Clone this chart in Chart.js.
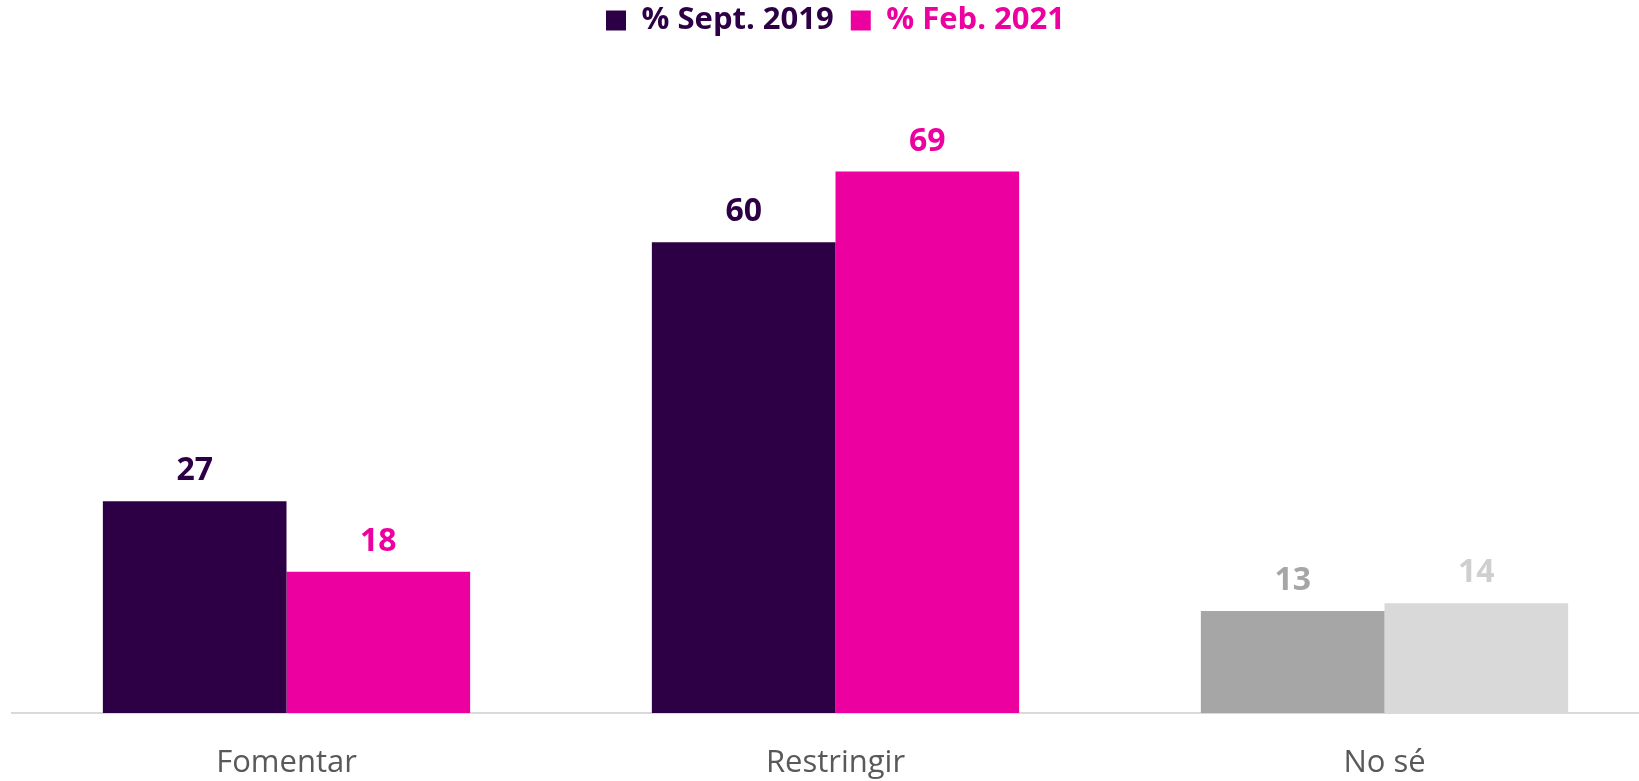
<!DOCTYPE html>
<html>
<head>
<meta charset="utf-8">
<script src="https://cdn.jsdelivr.net/npm/chart.js@4/dist/chart.umd.min.js"></script>
<style>
  html, body { margin: 0; padding: 0; background: #ffffff; overflow: hidden; }
  #wrap { width: 1660px; height: 781px; position: relative; }
</style>
</head>
<body>
<div id="wrap"><canvas id="c"></canvas></div>
<script>
const categories = ['Fomentar', 'Restringir', 'No sé'];
const seriesNames = ['% Sept. 2019', '% Feb. 2021'];
const sept2019 = [27, 60, 13];
const feb2021 = [18, 69, 14];

const DARK = '#2d0046';
const PINK = '#ec00a0';
const GRAY = '#a6a6a6';
const LIGHT = '#d9d9d9';
const barColors = [[DARK, DARK, GRAY], [PINK, PINK, LIGHT]];
const labelColors = [[DARK, DARK, '#a6a6a6'], [PINK, PINK, '#cfcfcf']];
const FONT = "'Open Sans', 'DejaVu Sans', sans-serif";

const valueLabels = {
  id: 'valueLabels',
  afterDatasetsDraw(chart) {
    const ctx = chart.ctx;
    ctx.save();
    ctx.font = 'bold 32px ' + FONT;
    ctx.textAlign = 'center';
    ctx.textBaseline = 'alphabetic';
    chart.data.datasets.forEach((ds, di) => {
      const meta = chart.getDatasetMeta(di);
      meta.data.forEach((el, i) => {
        ctx.fillStyle = labelColors[di][i];
        ctx.fillText(String(ds.data[i]), el.x, el.y - 21);
      });
    });
    ctx.restore();
  }
};

new Chart(document.getElementById('c'), {
  type: 'bar',
  data: {
    labels: categories,
    datasets: [
      { label: seriesNames[0], data: sept2019, backgroundColor: barColors[0], borderWidth: 0 },
      { label: seriesNames[1], data: feb2021, backgroundColor: barColors[1], borderWidth: 0 }
    ]
  },
  options: {
    responsive: true,
    maintainAspectRatio: false,
    animation: false,
    layout: { padding: { left: 12, right: 1, top: -12, bottom: 0 } },
    datasets: { bar: { categoryPercentage: 0.669, barPercentage: 1.0 } },
    plugins: {
      tooltip: { enabled: false },
      legend: {
        position: 'top',
        labels: {
          boxWidth: 20,
          boxHeight: 20,
          padding: 17,
          font: { family: FONT, size: 31, weight: 'bold' },
          generateLabels(chart) {
            return chart.data.datasets.map((ds, i) => ({
              text: ds.label,
              fillStyle: barColors[i][0],
              strokeStyle: barColors[i][0],
              lineWidth: 0,
              fontColor: barColors[i][0],
              hidden: false,
              datasetIndex: i
            }));
          }
        }
      }
    },
    scales: {
      x: {
        grid: { display: false },
        border: { display: true, color: '#d9d9d9', width: 2 },
        ticks: {
          color: '#595959',
          padding: 24,
          font: { family: FONT, size: 31 }
        },
        afterFit(scale) { scale.height = 68; }
      },
      y: {
        display: false,
        min: 0,
        max: 85
      }
    }
  },
  plugins: [valueLabels]
});
</script>
</body>
</html>
